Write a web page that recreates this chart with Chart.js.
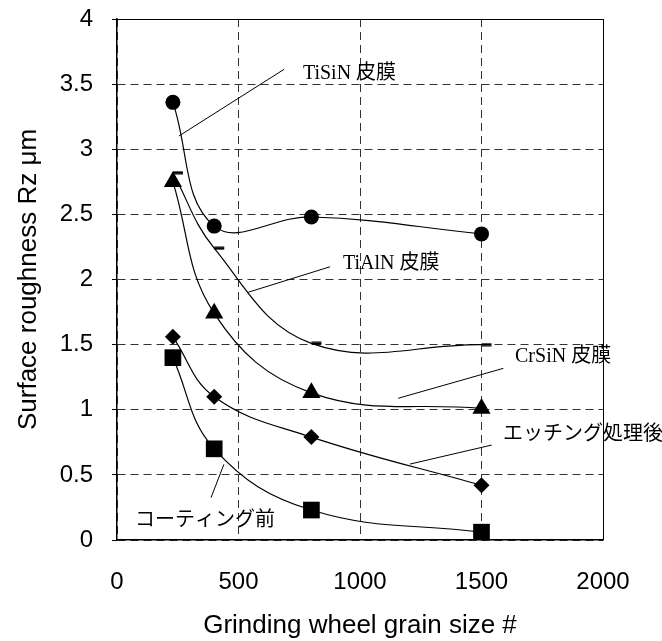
<!DOCTYPE html>
<html><head><meta charset="utf-8">
<script src="https://cdn.jsdelivr.net/npm/chart.js@4.4.1/dist/chart.umd.min.js"></script>
<style>html,body{margin:0;padding:0;background:#fff}#wrap{width:662px;height:641px}</style>
</head><body><div id="wrap"><canvas id="c" width="662" height="641"></canvas></div>
<script>
// ---- data ----
const grainSizes = [230, 400, 800, 1500];
const tisin    = [3.36, 2.41, 2.48, 2.35];
const tialn    = [2.82, 2.24, 1.51, 1.50];
const crsin    = [2.75, 1.74, 1.13, 1.01];
const etched   = [1.56, 1.10, 0.79, 0.42];
const uncoated = [1.40, 0.70, 0.23, 0.06];
const seriesNames = ['TiSiN 皮膜', 'TiAlN 皮膜', 'CrSiN 皮膜', 'エッチング処理後', 'コーティング前'];
const xTickValues = [0, 500, 1000, 1500, 2000];
const yTickValues = [0, 0.5, 1, 1.5, 2, 2.5, 3, 3.5, 4];
const xTitle = 'Grinding wheel grain size #';
const yTitle = 'Surface roughness Rz μm';

// callout labels: text anchor and leader line ends, in data units
const callouts = [
  {text: seriesNames[0], tx: 765,  ty: 3.578, l: [688, 3.614, 255, 3.102]},
  {text: seriesNames[1], tx: 930,  ty: 2.119, l: [877, 2.098, 540, 1.902]},
  {text: seriesNames[2], tx: 1638, ty: 1.405, l: [1590, 1.318, 1157, 1.088]},
  {text: seriesNames[3], tx: 1588, ty: 0.806, l: [1542, 0.729, 1206, 0.583]},
  {text: seriesNames[4], tx: 74,   ty: 0.146, l: [440, 0.581, 387, 0.325]}
];

const toPts = ys => grainSizes.map((x, i) => ({x, y: ys[i]}));

// dash marker, drawn to the right of the point
const dashImg = document.createElement('canvas');
dashImg.width = 22; dashImg.height = 4;
(function(){ const g = dashImg.getContext('2d'); g.fillStyle = '#000'; g.fillRect(11, 0.5, 10, 3); })();

const calloutPlugin = {
  id: 'callouts',
  afterDatasetsDraw(chart) {
    const {ctx, scales: {x, y}, chartArea: a} = chart;
    ctx.save();
    // top and right frame
    ctx.strokeStyle = '#000'; ctx.lineWidth = 1;
    ctx.beginPath();
    ctx.moveTo(a.left, a.top + 0.5); ctx.lineTo(a.right + 0.5, a.top + 0.5); ctx.lineTo(a.right + 0.5, a.bottom);
    ctx.stroke();
    ctx.font = '20px "Liberation Serif", "Noto Sans CJK JP", serif';
    ctx.fillStyle = '#000'; ctx.textAlign = 'left'; ctx.textBaseline = 'middle';
    callouts.forEach(c => {
      ctx.beginPath();
      ctx.lineWidth = 1;
      ctx.moveTo(x.getPixelForValue(c.l[0]), y.getPixelForValue(c.l[1]));
      ctx.lineTo(x.getPixelForValue(c.l[2]), y.getPixelForValue(c.l[3]));
      ctx.stroke();
      ctx.fillText(c.text, x.getPixelForValue(c.tx), y.getPixelForValue(c.ty));
    });
    ctx.restore();
  }
};

const common = {borderColor: '#000', backgroundColor: '#000', borderWidth: 1.2, tension: 0.4, fill: false, pointBorderWidth: 0};

new Chart(document.getElementById('c'), {
  type: 'line',
  data: {
    datasets: [
      Object.assign({label: seriesNames[0], data: toPts(tisin), pointStyle: 'circle', pointRadius: 7.5}, common),
      Object.assign({label: seriesNames[1], data: toPts(tialn), pointStyle: dashImg, pointRadius: 5}, common),
      Object.assign({label: seriesNames[2], data: toPts(crsin), pointStyle: 'triangle', pointRadius: 10.5}, common),
      Object.assign({label: seriesNames[3], data: toPts(etched), pointStyle: 'rectRot', pointRadius: 8}, common),
      Object.assign({label: seriesNames[4], data: toPts(uncoated), pointStyle: 'rect', pointRadius: 11.8}, common)
    ]
  },
  options: {
    responsive: false,
    animation: false,
    devicePixelRatio: 1,
    layout: {padding: {top: 19, right: 59, bottom: 0, left: 0}},
    plugins: {legend: {display: false}, tooltip: {enabled: false}},
    scales: {
      x: {
        type: 'linear', min: 0, max: 2000,
        afterBuildTicks: s => { s.ticks = xTickValues.map(v => ({value: v})); },
        afterFit: s => { s.height = 101; },
        ticks: {callback: v => String(v), padding: 28, color: '#000', font: {family: '"Liberation Sans", Arial, sans-serif', size: 24}, maxRotation: 0},
        grid: {color: '#333', lineWidth: 1, drawTicks: false},
        border: {display: true, color: '#000', width: 1.5, dash: [8, 5]},
        title: {display: true, text: xTitle, color: '#000', font: {family: '"Liberation Sans", Arial, sans-serif', size: 26, lineHeight: 1.2}, padding: {top: 0, bottom: 0}}
      },
      y: {
        type: 'linear', min: 0, max: 4,
        afterBuildTicks: s => { s.ticks = yTickValues.map(v => ({value: v})); },
        afterFit: s => { s.width = 117; s.paddingTop = 0; s.paddingBottom = 0; },
        ticks: {callback: v => String(v), padding: 19, color: '#000', font: {family: '"Liberation Sans", Arial, sans-serif', size: 24}},
        grid: {color: '#333', lineWidth: 1, drawTicks: true, tickLength: 5, tickColor: '#000', tickBorderDash: [], tickWidth: 1},
        border: {display: true, color: '#000', width: 1.5, dash: [8, 5]},
        title: {display: true, text: yTitle, color: '#000', font: {family: '"Liberation Sans", Arial, sans-serif', size: 26, lineHeight: 1.2}, padding: {top: 13, bottom: 0}}
      }
    }
  },
  plugins: [calloutPlugin]
});
</script>
</body></html>
